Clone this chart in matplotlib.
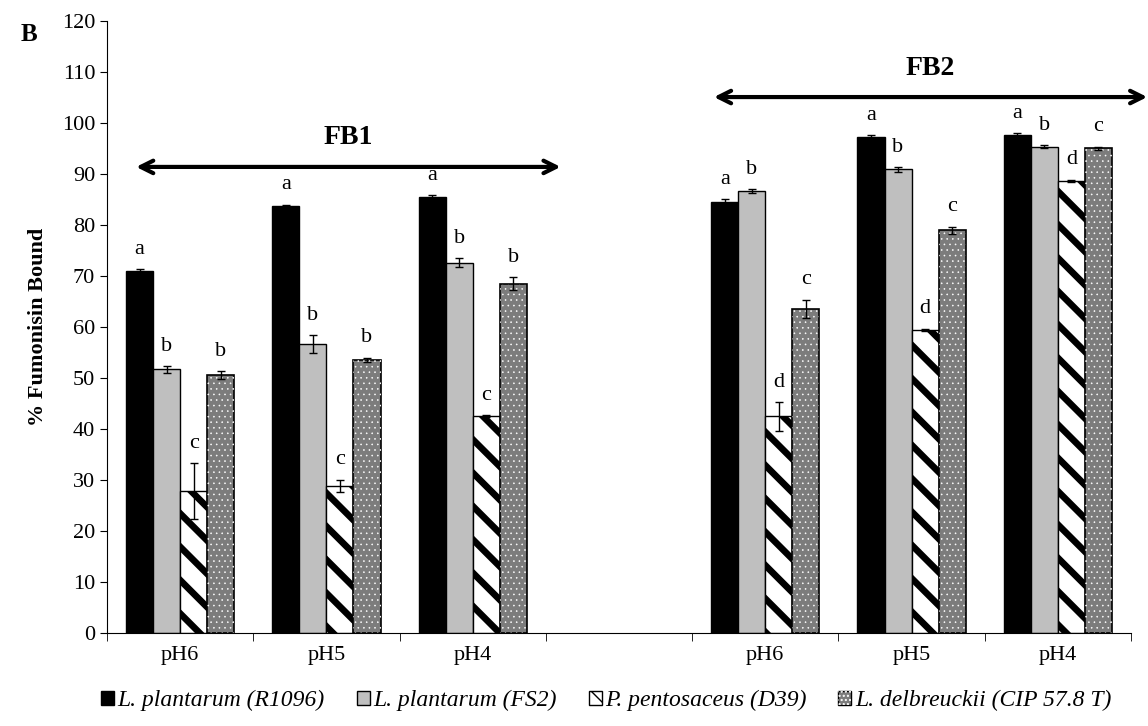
import numpy as np
import matplotlib
matplotlib.use("Agg")
from matplotlib import pyplot as plt
from matplotlib.patches import Patch

plt.rcParams["font.family"] = ["Liberation Serif", "DejaVu Serif"]

groups = ["pH6", "pH5", "pH4", "", "pH6", "pH5", "pH4"]
strains = ["L. plantarum (R1096)", "L. plantarum (FS2)",
           "P. pentosaceus (D39)", "L. delbreuckii (CIP 57.8 T)"]

# rows = strains, columns = FB1 pH6, pH5, pH4, FB2 pH6, pH5, pH4
values = [
    [71.0, 83.7, 85.5, 84.5, 97.2, 97.7],
    [51.7, 56.7, 72.6, 86.6, 90.9, 95.4],
    [27.8, 28.9, 42.5, 42.5, 59.5, 88.7],
    [50.6, 53.6, 68.5, 63.6, 79.0, 95.1],
]
errors = [
    [0.3, 0.3, 0.3, 0.6, 0.4, 0.3],
    [0.7, 1.7, 0.9, 0.4, 0.4, 0.2],
    [5.5, 1.2, 0.2, 2.8, 0.2, 0.2],
    [0.8, 0.4, 1.3, 1.8, 0.7, 0.3],
]
letters = [
    ["a", "a", "a", "a", "a", "a"],
    ["b", "b", "b", "b", "b", "b"],
    ["c", "c", "c", "d", "d", "d"],
    ["b", "b", "b", "c", "c", "c"],
]

pos = np.array([0, 1, 2, 4, 5, 6])
w = 0.185
fs = 16
dot_face = "#7c7c7c"


def hatch_lw(bars, lw):
    for p in bars:
        if hasattr(p, "set_hatch_linewidth"):
            p.set_hatch_linewidth(lw)


fig = plt.figure(figsize=(11.48, 7.26), dpi=100)
ax = fig.add_axes([0.0932, 0.128, 0.892, 0.843])

for i in range(4):
    x = pos + (i - 1.5) * w
    if i == 0:
        b = ax.bar(x, values[i], w, color="black", edgecolor="black", linewidth=1)
    elif i == 1:
        b = ax.bar(x, values[i], w, color="#bfbfbf", edgecolor="black", linewidth=1)
    elif i == 2:
        with plt.rc_context({"hatch.linewidth": 4.8}):
            b = ax.bar(x, values[i], w, color="white", edgecolor="black",
                       linewidth=1, hatch="\\")
        hatch_lw(b, 4.8)
    else:
        b = ax.bar(x, values[i], w, color=dot_face, edgecolor="black", linewidth=1.2)
        with plt.rc_context({"hatch.linewidth": 0.4}):
            dots = ax.bar(x, values[i], w, color="none", edgecolor="white",
                          linewidth=0, hatch="...")
        hatch_lw(dots, 0.4)
    ax.errorbar(x, values[i], yerr=errors[i], fmt="none", ecolor="black",
                elinewidth=1, capsize=3, capthick=1)
    for xx, v, e, t in zip(x, values[i], errors[i], letters[i]):
        ax.text(xx, v + e + 2.0, t, ha="center", va="bottom", fontsize=fs)

ax.set_xlim(-0.5, 6.5)
ax.set_ylim(0, 120)
ax.set_yticks(range(0, 121, 10))
ax.set_xticks(range(7))
ax.set_xticklabels(groups, fontsize=fs)
ax.set_xticks(np.arange(-0.5, 7, 1), minor=True)
ax.tick_params(axis="x", which="major", length=0, pad=9)
ax.tick_params(axis="x", which="minor", length=6, direction="out")
ax.tick_params(axis="y", labelsize=fs, length=5, direction="out")
ax.spines["top"].set_visible(False)
ax.spines["right"].set_visible(False)
ax.set_ylabel("% Fumonisin Bound", fontsize=fs, fontweight="bold", labelpad=10)

# FB1 / FB2 arrows
arrow = dict(arrowstyle="<->,head_length=0.9,head_width=0.45", lw=3, color="black")
ax.annotate("", xy=(-0.32, 91.4), xytext=(2.62, 91.4), arrowprops=arrow,
            annotation_clip=False)
ax.text(1.15, 94.8, "FB1", ha="center", va="bottom", fontsize=20, fontweight="bold")
ax.annotate("", xy=(3.63, 105.1), xytext=(6.63, 105.1), arrowprops=arrow,
            annotation_clip=False)
ax.text(5.13, 108.3, "FB2", ha="center", va="bottom", fontsize=20, fontweight="bold")

fig.text(0.018, 0.952, "B", fontsize=18, fontweight="bold", ha="left", va="center")

# legend handles
with plt.rc_context({"hatch.linewidth": 2.0}):
    h_stripe = Patch(facecolor="white", edgecolor="black", linewidth=1, hatch="\\\\")
with plt.rc_context({"hatch.linewidth": 0.4}):
    h_dots = Patch(facecolor="none", edgecolor="white", linewidth=0, hatch="....")
if hasattr(h_stripe, "set_hatch_linewidth"):
    h_stripe.set_hatch_linewidth(2.0)
handles = [
    Patch(facecolor="black", edgecolor="black", linewidth=1),
    Patch(facecolor="#bfbfbf", edgecolor="black", linewidth=1),
    h_stripe,
    (Patch(facecolor=dot_face, edgecolor="black", linewidth=1), h_dots),
]

fig.legend(handles, strains, loc="center", bbox_to_anchor=(0.528, 0.035), ncol=4,
           frameon=False, prop={"style": "italic", "size": 17},
           handlelength=0.55, handleheight=0.55, handletextpad=0.15, columnspacing=1.35)

fig.savefig("out.png", dpi=100)
